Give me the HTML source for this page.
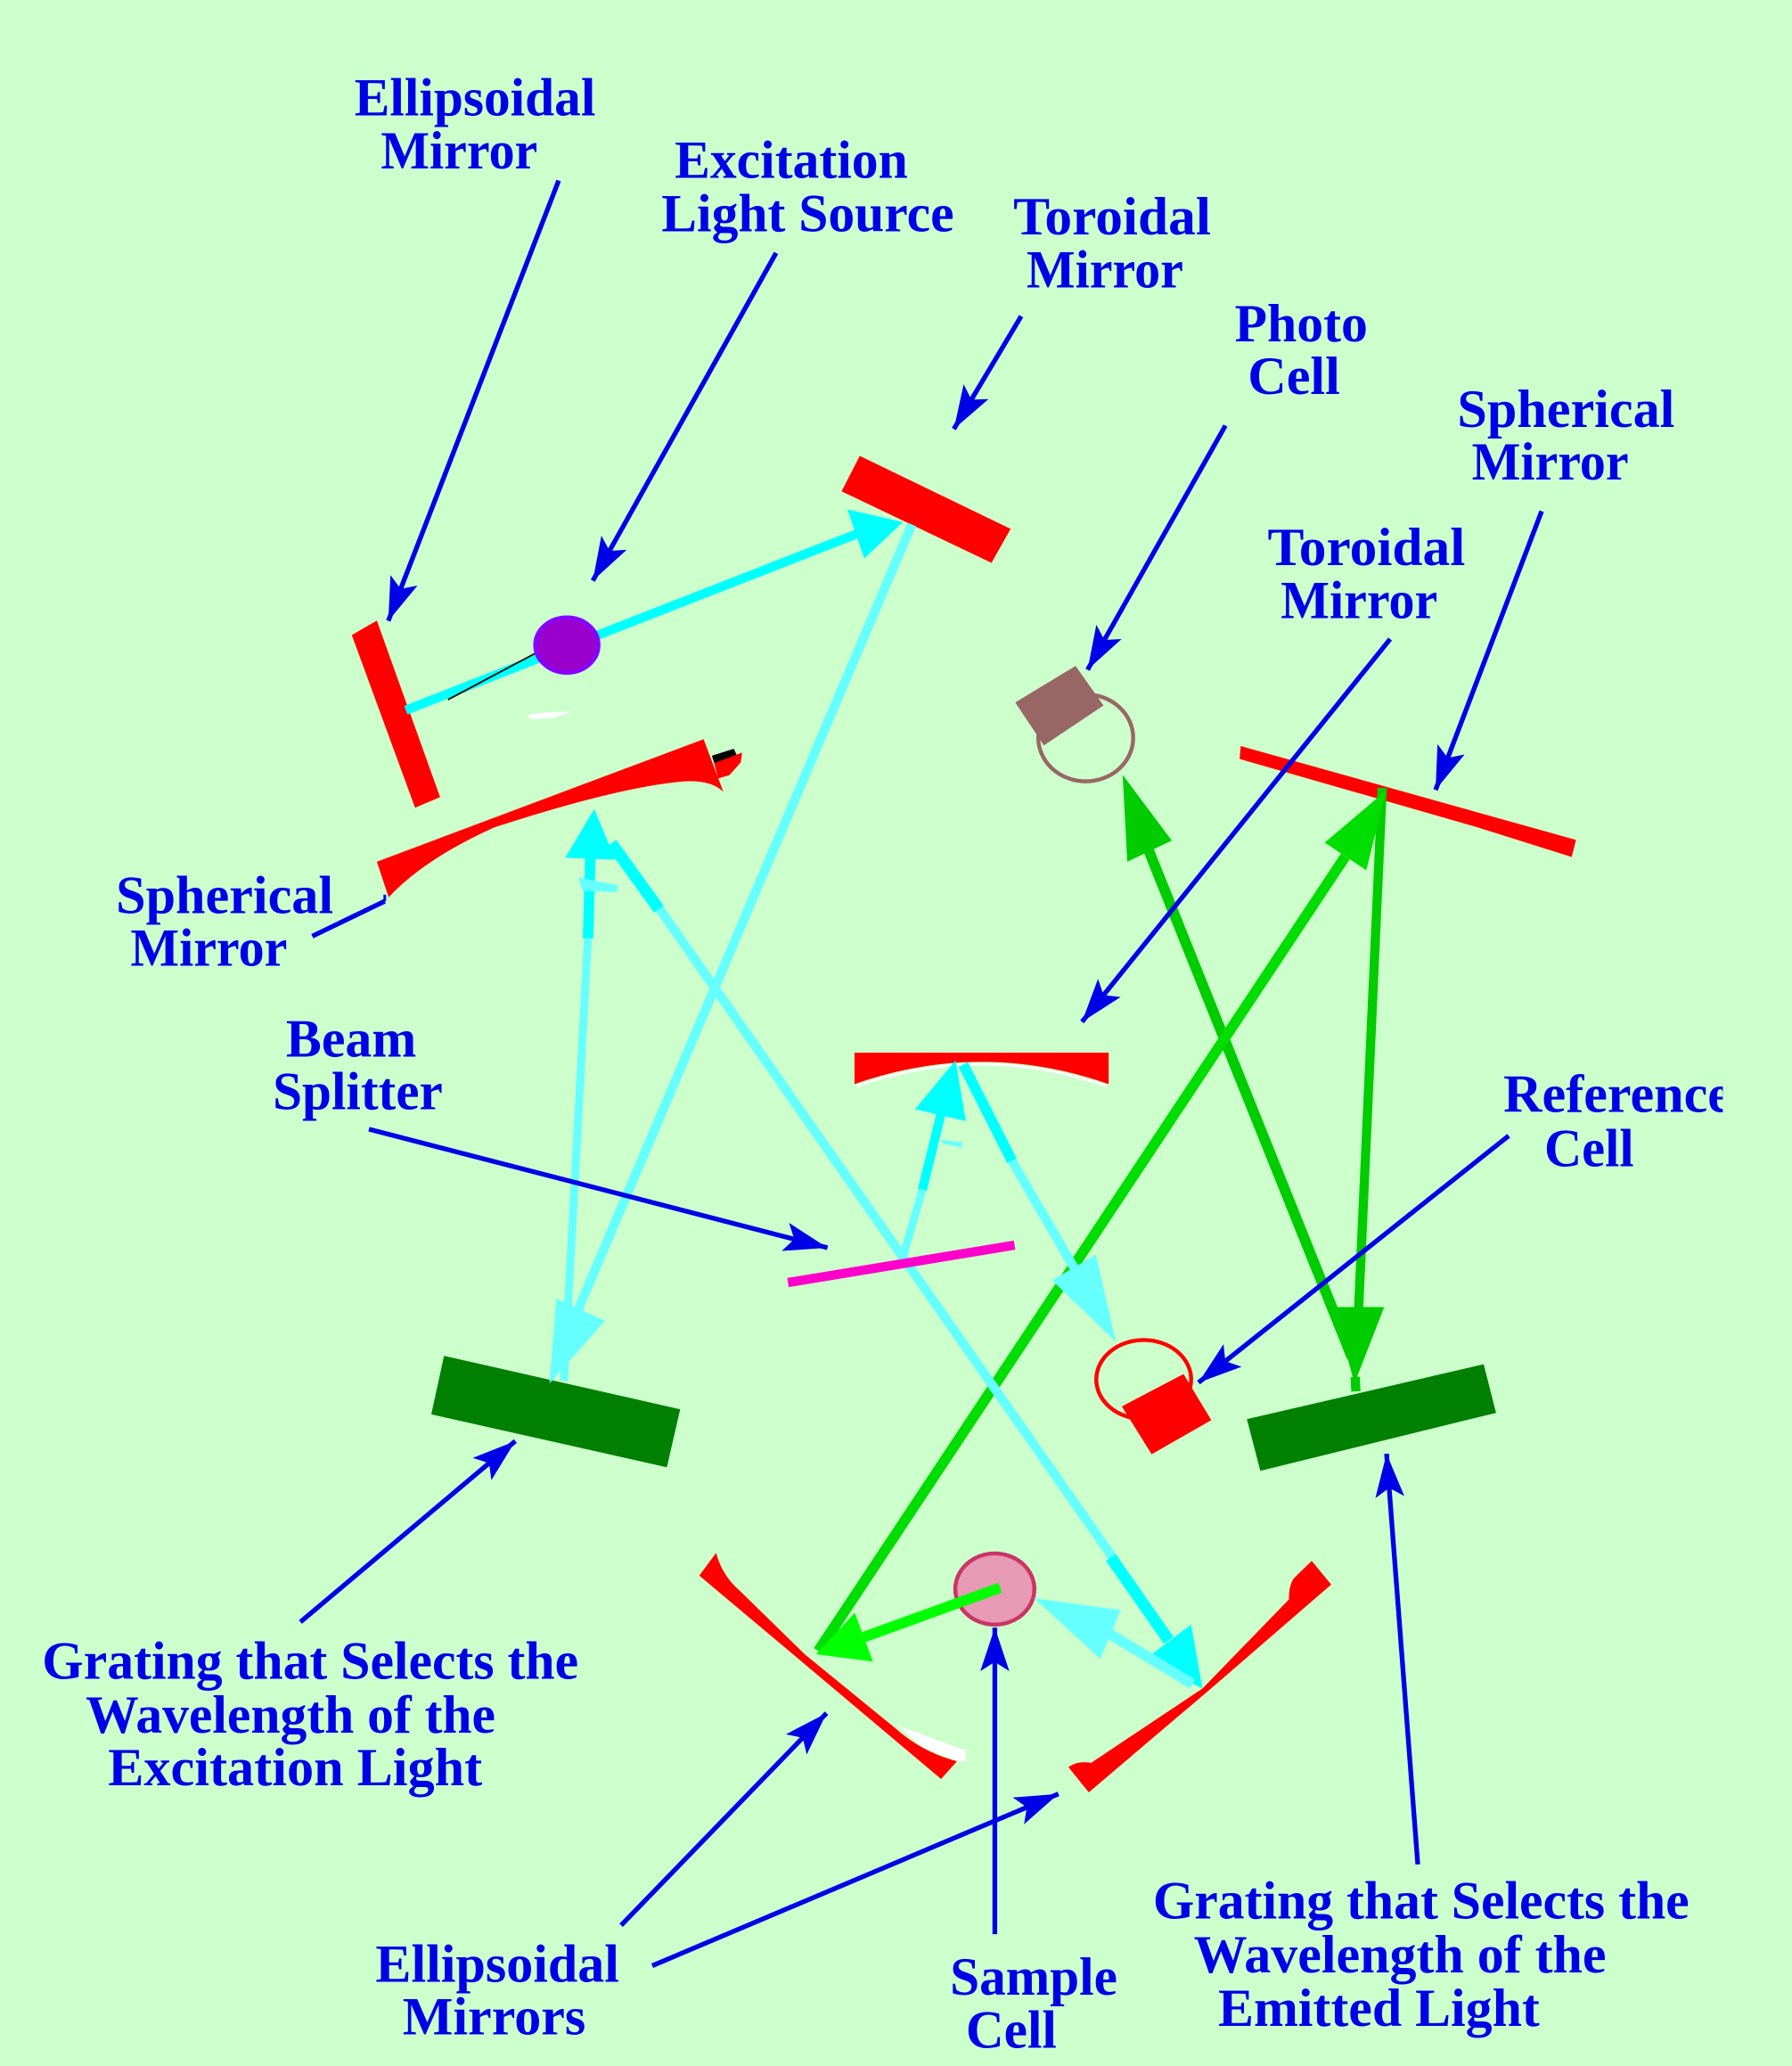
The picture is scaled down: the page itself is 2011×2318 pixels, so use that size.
<!DOCTYPE html>
<html>
<head>
<meta charset="utf-8">
<style>
  html, body { margin: 0; padding: 0; background: #ccffcc; overflow: hidden; }
  svg { display: block; }
  text { font-family: "Liberation Serif", "Times New Roman", serif; font-weight: bold; font-size: 40.5px; fill: #0000e6; }
</style>
</head>
<body>
<svg xmlns="http://www.w3.org/2000/svg" width="2011" height="2318" viewBox="0 0 1360 1568" preserveAspectRatio="none">
  <defs>
    <marker id="ah" markerUnits="userSpaceOnUse" markerWidth="44" markerHeight="30" viewBox="-44 -15 44 30" refX="0" refY="0" orient="auto">
      <path d="M0,0 L-33,-11 L-26,0 L-33,11 Z" fill="#0000e6"/>
    </marker>
    <clipPath id="clipR"><rect x="0" y="0" width="1307.5" height="1568"/></clipPath>
  </defs>

  <rect x="0" y="0" width="1360" height="1568" fill="#ccffcc"/>

  <!-- ===== Mirrors / optical parts ===== -->
  <polygon points="267,482 286,471 334,605 315,613" fill="#ff0000"/>
  <polygon points="652.5,346 767,401.4 752.5,427.2 638.7,372.9" fill="#ff0000"/>
  <path d="M286,654 L534,561 L549,601 Q540,592 520,593 Q470,597 375,628 Q322,652 295,681 Z" fill="#ff0000"/>
  <polygon points="540.3,573.5 556.9,568.3 559.3,573.5 542,579.2" fill="#000000"/>
  <polygon points="542,579.2 563.2,571.2 562.2,578.6 553.5,588.3 545,590.8" fill="#ff0000"/>
  <polygon points="399,543 410,541 434,540 420,545 403,546" fill="#ffffff"/>

  <!-- right spherical mirror -->
  <path d="M941.6,566.2 L1196.1,637.5 L1192.8,650.4 L1120,627.5 L940.8,576 Z" fill="#ff0000"/>

  <!-- middle toroidal mirror -->
  <path d="M648.5,799 L841.4,799 L841.4,822.8 Q745,789 648.5,822.8 Z" fill="#ff0000"/>
  <path d="M650,824.5 Q745,791 840,824.5" fill="none" stroke="#ffffff" stroke-width="1.6"/>

  <!-- gratings -->
  <polygon points="337,1029 516.2,1069.6 506.1,1113.6 327.3,1073.4" fill="#008000"/>
  <polygon points="946.3,1077.1 1126,1035.4 1135.4,1072.3 956.5,1116.3" fill="#008000"/>

  <!-- bottom-left ellipsoidal mirror -->
  <path d="M530.7,1195.8 L543.5,1178.5 Q548,1196 562.4,1208.2 L610.7,1255.5 L679.7,1311.8 Q700,1330 726.3,1336.7 L714.2,1350.2 L607.3,1260.1 Z" fill="#ff0000"/>
  <polygon points="681.5,1309.5 733.2,1328.7 733.2,1336.6 726.3,1336.7 700,1326" fill="#ffffff"/>
  <!-- bottom-right ellipsoidal mirror -->
  <path d="M995.5,1184.6 L1010.3,1202.6 L917.8,1282.6 L826.3,1360.3 L810.8,1341.1 Q818,1336 828.1,1337.9 L912.6,1281.5 L978.2,1213.9 Q978,1204 981.7,1198.1 Z" fill="#ff0000"/>

  <!-- photo cell -->
  <ellipse cx="824" cy="560" rx="36" ry="33" fill="none" stroke="#996666" stroke-width="3"/>
  <polygon points="770.5,533.1 816.3,505.4 837.5,535.4 792.2,565.8" fill="#996666"/>

  <!-- reference cell -->
  <ellipse cx="868" cy="1047" rx="36" ry="30" fill="none" stroke="#ff0000" stroke-width="3"/>
  <polygon points="851.4,1067.4 898.2,1042.8 919.3,1077.8 874,1103.7" fill="#ff0000"/>

  <!-- sample cell -->
  <ellipse cx="755" cy="1206" rx="30" ry="27" fill="#e69ab4" stroke="#cc3366" stroke-width="3"/>

  <!-- ===== Green (emission) beams ===== -->
  <line x1="872" y1="646" x2="1026" y2="1030" stroke="#00cc00" stroke-width="8"/>
  <polygon points="852,588 855.5,654 889.3,638" fill="#00cc00"/>
  <line x1="1049" y1="598" x2="1031" y2="995" stroke="#00cc00" stroke-width="7"/>
  <polygon points="1012,992 1050.5,992 1028,1050" fill="#00cc00"/>
  <line x1="1028.5" y1="1045" x2="1029" y2="1056" stroke="#00cc00" stroke-width="7"/>
  <line x1="1021" y1="650" x2="621" y2="1253" stroke="#00dd00" stroke-width="8"/>
  <polygon points="1052,600 1005.4,639.5 1036.9,660.5" fill="#00dd00"/>
  <line x1="759" y1="1205" x2="655.6" y2="1242.5" stroke="#00ff00" stroke-width="8"/>
  <polygon points="619.3,1255.5 648.7,1224 662.5,1261.1" fill="#00ff00"/>

  <!-- ===== Cyan (excitation) beams ===== -->
  <line x1="308" y1="539" x2="650" y2="405.3" stroke="#00ffff" stroke-width="7"/>
  <line x1="340" y1="531" x2="406" y2="496" stroke="#000000" stroke-width="1.2"/>
  <polygon points="685.3,396.2 643.1,386.6 655.9,423.9" fill="#00ffff"/>
  <line x1="692" y1="398" x2="437" y2="998" stroke="#66ffff" stroke-width="7"/>
  <polygon points="417,1050 422.2,985.6 459.1,1002.4" fill="#66ffff"/>
  <line x1="446.3" y1="710" x2="428" y2="1048" stroke="#66ffff" stroke-width="6"/>
  <line x1="448" y1="651" x2="446.3" y2="712" stroke="#00ffff" stroke-width="8"/>
  <polygon points="451,614 429,651 467,652.5" fill="#00ffff"/>
  <polygon points="439,666 469,672 468,677 442,676" fill="#66ffff"/>
  <line x1="500" y1="689" x2="850" y2="1190" stroke="#66ffff" stroke-width="7"/>
  <line x1="464" y1="640" x2="500" y2="690" stroke="#00ffff" stroke-width="9"/>
  <line x1="843" y1="1182" x2="887" y2="1245" stroke="#00ffff" stroke-width="9"/>
  <polygon points="912.6,1281.5 869.5,1259 904,1233" fill="#00ffff"/>
  <line x1="842" y1="1240" x2="905" y2="1278" stroke="#66ffff" stroke-width="8"/>
  <polygon points="785,1213 850.5,1222 835,1259" fill="#66ffff"/>
  <line x1="685" y1="955" x2="700" y2="903" stroke="#66ffff" stroke-width="6"/>
  <line x1="700" y1="903" x2="714" y2="846" stroke="#00ffff" stroke-width="7"/>
  <polygon points="725.2,804.7 694.4,841.8 733,850.8" fill="#00ffff"/>
  <polygon points="714,865 730,867 730,871 716,868" fill="#66ffff"/>
  <line x1="768" y1="881" x2="815" y2="962" stroke="#66ffff" stroke-width="7"/>
  <line x1="731" y1="808" x2="768" y2="881" stroke="#00ffff" stroke-width="8"/>
  <polygon points="846.8,1018.2 798.5,971.7 831.7,952.3" fill="#66ffff"/>

  <!-- source lamp -->
  <ellipse cx="430.2" cy="489.6" rx="24" ry="21" fill="#9900cc" stroke="#8800ff" stroke-width="3"/>

  <!-- beam splitter -->
  <line x1="598" y1="973.4" x2="770" y2="945" stroke="#ff00cc" stroke-width="7"/>

  <!-- ===== Blue label pointers ===== -->
  <g stroke="#0000e6" stroke-width="3.6" fill="none">
    <line x1="424" y1="137" x2="294.7" y2="471.2" marker-end="url(#ah)"/>
    <line x1="589" y1="192" x2="449.9" y2="440.7" marker-end="url(#ah)"/>
    <line x1="775" y1="240" x2="723.9" y2="325.6" marker-end="url(#ah)"/>
    <line x1="930" y1="323" x2="825.4" y2="508.3" marker-end="url(#ah)"/>
    <line x1="1170" y1="388" x2="1089.5" y2="599.5" marker-end="url(#ah)"/>
    <line x1="1055" y1="485" x2="821.2" y2="775.5" marker-end="url(#ah)"/>
    <line x1="237" y1="710.5" x2="292" y2="684"/>
    <line x1="292" y1="684" x2="292" y2="679" stroke-width="2"/>
    <line x1="280" y1="857" x2="628" y2="947" marker-end="url(#ah)"/>
    <line x1="1145" y1="862" x2="909.6" y2="1049.3" marker-end="url(#ah)"/>
    <line x1="228" y1="1231" x2="391.1" y2="1093.7" marker-end="url(#ah)"/>
    <line x1="1076" y1="1415" x2="1052.3" y2="1103.3" marker-end="url(#ah)"/>
    <line x1="471.4" y1="1461.2" x2="627.3" y2="1300.2" marker-end="url(#ah)"/>
    <line x1="495" y1="1491.9" x2="803.3" y2="1361.5" marker-end="url(#ah)"/>
    <line x1="755" y1="1468" x2="755" y2="1235.3" marker-end="url(#ah)"/>
  </g>

  <!-- ===== Labels ===== -->
  <text x="269" y="87.5" textLength="183" lengthAdjust="spacingAndGlyphs">Ellipsoidal</text>
  <text x="289" y="128" textLength="119" lengthAdjust="spacingAndGlyphs">Mirror</text>

  <text x="512" y="134.8" textLength="177" lengthAdjust="spacingAndGlyphs">Excitation</text>
  <text x="502" y="175.4" textLength="222" lengthAdjust="spacingAndGlyphs">Light Source</text>

  <text x="769" y="178" textLength="150" lengthAdjust="spacingAndGlyphs">Toroidal</text>
  <text x="779" y="218" textLength="119" lengthAdjust="spacingAndGlyphs">Mirror</text>

  <text x="937" y="259" textLength="101" lengthAdjust="spacingAndGlyphs">Photo</text>
  <text x="947" y="299" textLength="70" lengthAdjust="spacingAndGlyphs">Cell</text>

  <text x="1106" y="324" textLength="165" lengthAdjust="spacingAndGlyphs">Spherical</text>
  <text x="1117" y="364" textLength="119" lengthAdjust="spacingAndGlyphs">Mirror</text>

  <text x="962" y="429" textLength="150" lengthAdjust="spacingAndGlyphs">Toroidal</text>
  <text x="972" y="469" textLength="119" lengthAdjust="spacingAndGlyphs">Mirror</text>

  <text x="88" y="693" textLength="165" lengthAdjust="spacingAndGlyphs">Spherical</text>
  <text x="99" y="733" textLength="119" lengthAdjust="spacingAndGlyphs">Mirror</text>

  <text x="217" y="802" textLength="99" lengthAdjust="spacingAndGlyphs">Beam</text>
  <text x="207" y="842" textLength="129" lengthAdjust="spacingAndGlyphs">Splitter</text>

  <g clip-path="url(#clipR)">
    <text x="1141" y="844" textLength="173" lengthAdjust="spacingAndGlyphs">Reference</text>
  </g>
  <text x="1172" y="885" textLength="68" lengthAdjust="spacingAndGlyphs">Cell</text>

  <text x="32" y="1274" textLength="407" lengthAdjust="spacingAndGlyphs">Grating that Selects the</text>
  <text x="65" y="1315" textLength="311" lengthAdjust="spacingAndGlyphs">Wavelength of the</text>
  <text x="82" y="1355" textLength="284" lengthAdjust="spacingAndGlyphs">Excitation Light</text>

  <text x="875" y="1456" textLength="407" lengthAdjust="spacingAndGlyphs">Grating that Selects the</text>
  <text x="906" y="1497" textLength="313" lengthAdjust="spacingAndGlyphs">Wavelength of the</text>
  <text x="924.5" y="1537.4" textLength="244" lengthAdjust="spacingAndGlyphs">Emitted Light</text>

  <text x="285" y="1504" textLength="185" lengthAdjust="spacingAndGlyphs">Ellipsoidal</text>
  <text x="305.5" y="1544" textLength="139" lengthAdjust="spacingAndGlyphs">Mirrors</text>

  <text x="721" y="1514" textLength="127" lengthAdjust="spacingAndGlyphs">Sample</text>
  <text x="733" y="1554" textLength="69" lengthAdjust="spacingAndGlyphs">Cell</text>
</svg>
</body>
</html>
